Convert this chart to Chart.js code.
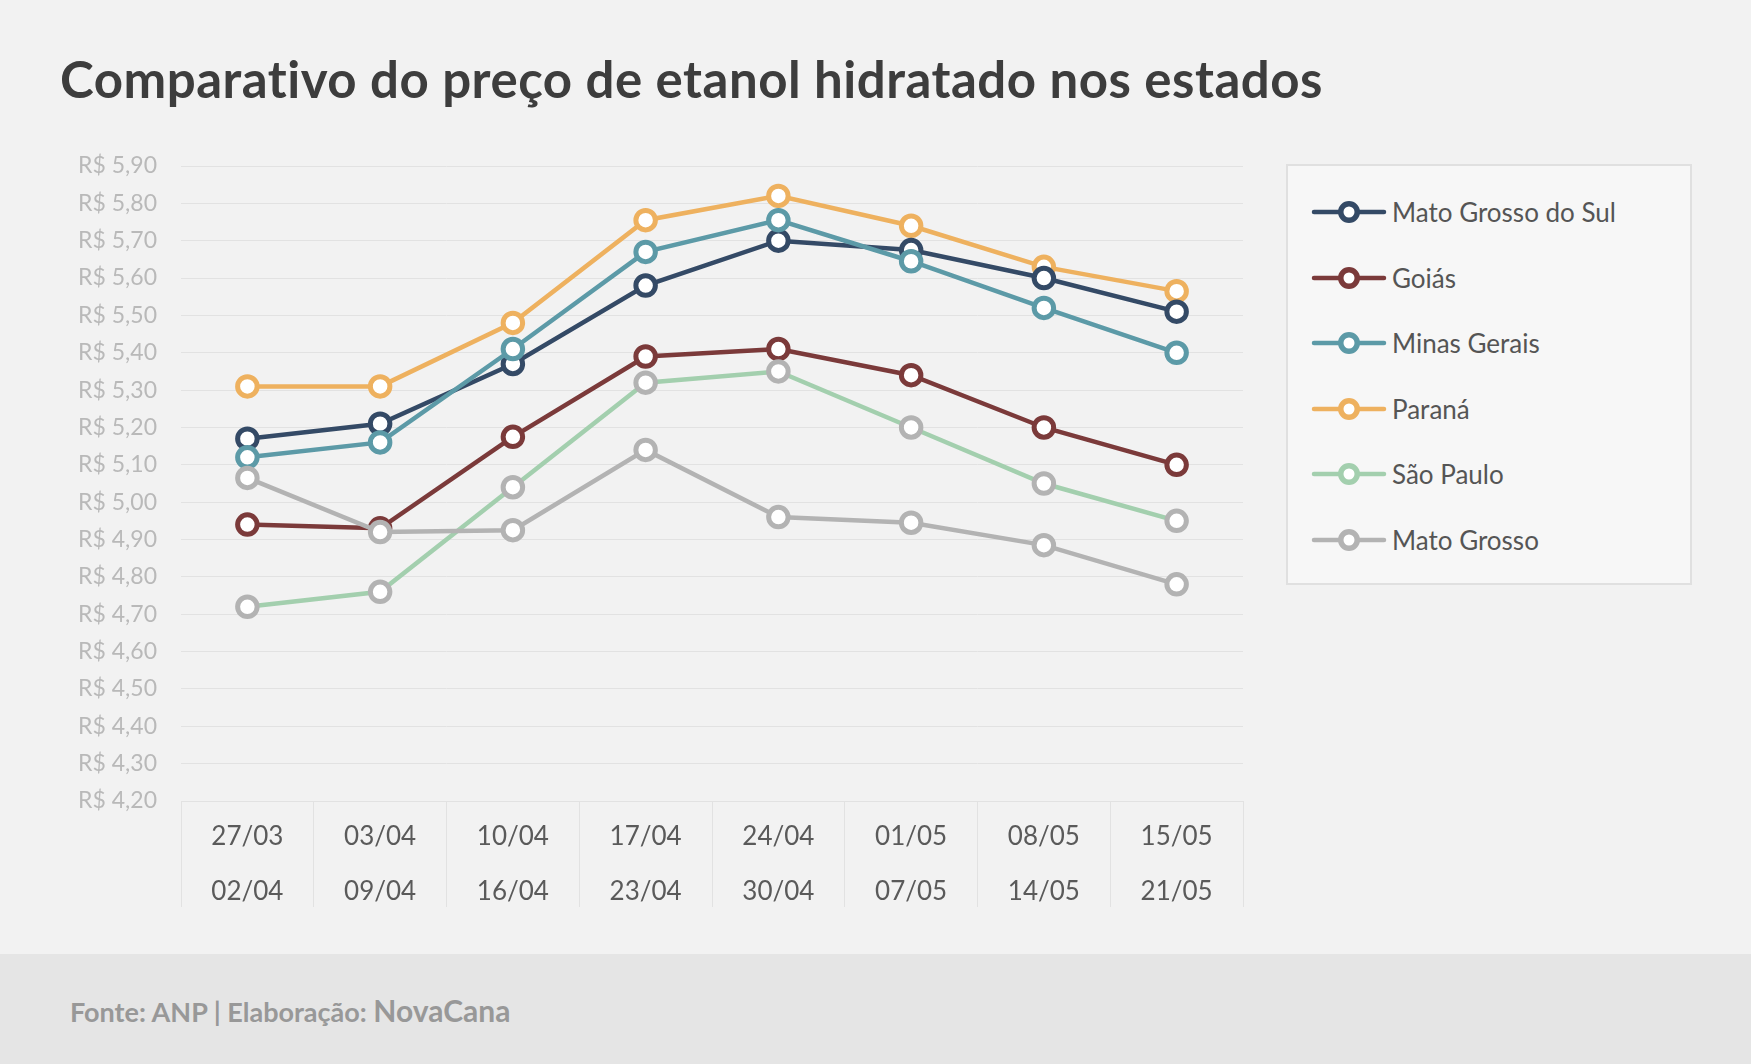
<!DOCTYPE html>
<html lang="pt-BR">
<head>
<meta charset="utf-8">
<title>Comparativo do preço de etanol hidratado nos estados</title>
<script src="https://cdn.jsdelivr.net/npm/chart.js@4.4.1/dist/chart.umd.min.js"></script>
<style>
  html, body { margin: 0; padding: 0; }
  body { width: 1751px; height: 1064px; background: #f2f2f2; position: relative; overflow: hidden; font-family: Lato, "Open Sans", sans-serif; font-variant-ligatures: none; }
  #title { position: absolute; left: 60px; top: 54px; font-size: 51px; line-height: 50px; font-weight: 700; letter-spacing: 0.5px; color: #3d3d3d; white-space: nowrap; }
  #footer { position: absolute; left: 0; top: 954px; width: 1751px; height: 110px; background: #e5e5e5; }
  #footer .txt { position: absolute; left: 70px; top: 38px; line-height: 36px; color: #989898; font-weight: 700; white-space: nowrap; }
  #footer .src { font-size: 27px; }
  #footer .brand { font-size: 30px; }
  #chartBox { position: absolute; left: 0; top: 0; width: 1751px; height: 1064px; }
  #legend { position: absolute; left: 1286px; top: 164px; width: 402px; height: 417px; background: #f7f7f7; border: 2.5px solid #e0e0e0; }
  #legend .item { position: absolute; left: 23px; height: 30px; display: flex; align-items: center; }
  #legend canvas { width: 76px; height: 28px; margin-right: 5px; }
  #legend span { font-size: 26px; color: #555555; white-space: nowrap; }
</style>
</head>
<body>
<div id="footer"><div class="txt"><span class="src">Fonte: ANP | Elaboração: </span><span class="brand">NovaCana</span></div></div>
<div id="title">Comparativo do preço de etanol hidratado nos estados</div>
<div id="chartBox"><canvas id="chart"></canvas></div>
<div id="legend"></div>
<script>
// datas de início e fim de cada semana
const startDates = ['27/03', '03/04', '10/04', '17/04', '24/04', '01/05', '08/05', '15/05'];
const endDates   = ['02/04', '09/04', '16/04', '23/04', '30/04', '07/05', '14/05', '21/05'];

// preços médios (R$/litro)
const msValues    = [5.17, 5.21, 5.37, 5.58, 5.70, 5.675, 5.60, 5.51];
const goiasValues = [4.94, 4.93, 5.175, 5.39, 5.41, 5.34, 5.20, 5.10];
const mgValues    = [5.12, 5.16, 5.41, 5.67, 5.755, 5.645, 5.52, 5.40];
const prValues    = [5.31, 5.31, 5.48, 5.755, 5.82, 5.74, 5.63, 5.565];
const spValues    = [4.72, 4.76, 5.04, 5.32, 5.35, 5.20, 5.05, 4.95];
const mtValues    = [5.065, 4.92, 4.925, 5.14, 4.96, 4.945, 4.885, 4.78];

const stateNames  = ['Mato Grosso do Sul', 'Goiás', 'Minas Gerais', 'Paraná', 'São Paulo', 'Mato Grosso'];
const stateValues = [msValues, goiasValues, mgValues, prValues, spValues, mtValues];
const lineColors  = ['#344a66', '#7b3a3a', '#5c9aa7', '#eeb15f', '#a3cfae', '#b3b3b3'];
const markColors  = ['#344a66', '#7b3a3a', '#5c9aa7', '#eeb15f', '#b3b3b3', '#b3b3b3'];
// ordem de desenho (maior = mais embaixo)
const drawOrder   = [5, 3, 4, 6, 2, 1];

const yMin = 4.2, yMax = 5.9, yStep = 0.1;

const labels = startDates.map((d, i) => [d, endDates[i]]);

const datasets = stateNames.map((name, i) => ({
  label: name,
  data: stateValues[i],
  borderColor: lineColors[i],
  backgroundColor: lineColors[i],
  borderWidth: 4.5,
  pointRadius: 9.75,
  pointBorderWidth: 5,
  pointBorderColor: markColors[i],
  pointBackgroundColor: '#ffffff',
  tension: 0,
  order: drawOrder[i]
}));

new Chart(document.getElementById('chart'), {
  type: 'line',
  data: { labels, datasets },
  options: {
    responsive: true,
    maintainAspectRatio: false,
    animation: false,
    events: [],
    layout: { padding: { left: 80, top: 166, right: 508, bottom: 157 } },
    plugins: { legend: { display: false }, tooltip: { enabled: false } },
    scales: {
      x: {
        offset: true,
        grid: { offset: true, drawOnChartArea: false, tickLength: 106, color: '#e2e2e2', lineWidth: 1 },
        border: { display: false },
        ticks: {
          color: '#5a5a5a',
          font: { family: 'Lato', size: 26, lineHeight: 2.08 },
          padding: -97,
          maxRotation: 0,
          autoSkip: false
        },
        afterFit: s => { s.height = 106; }
      },
      y: {
        min: yMin,
        max: yMax,
        grid: { drawTicks: false, color: '#e2e2e2', lineWidth: 1 },
        border: { display: false },
        ticks: {
          stepSize: yStep,
          padding: 24,
          color: '#b9b9b9',
          font: { family: 'Lato', size: 23 },
          callback: v => 'R$ ' + Number(v).toFixed(2).replace('.', ',')
        },
        afterFit: s => { s.width = 101; }
      }
    }
  }
});

// legenda com linha + marcador
const legendEl = document.getElementById('legend');
const rowTops = [46, 112, 177, 243, 308, 374];
stateNames.forEach((name, i) => {
  const item = document.createElement('div');
  item.className = 'item';
  item.style.top = (rowTops[i] - 15) + 'px';
  const c = document.createElement('canvas');
  c.width = 76; c.height = 28;
  const g = c.getContext('2d');
  g.strokeStyle = lineColors[i];
  g.lineWidth = 4.5;
  g.lineCap = 'round';
  g.beginPath(); g.moveTo(3, 14); g.lineTo(73, 14); g.stroke();
  g.lineWidth = 5.5;
  g.beginPath(); g.arc(38, 14, 8.25, 0, Math.PI * 2);
  g.fillStyle = '#ffffff'; g.fill(); g.stroke();
  const t = document.createElement('span');
  t.textContent = name;
  item.appendChild(c);
  item.appendChild(t);
  legendEl.appendChild(item);
});
</script>
</body>
</html>
